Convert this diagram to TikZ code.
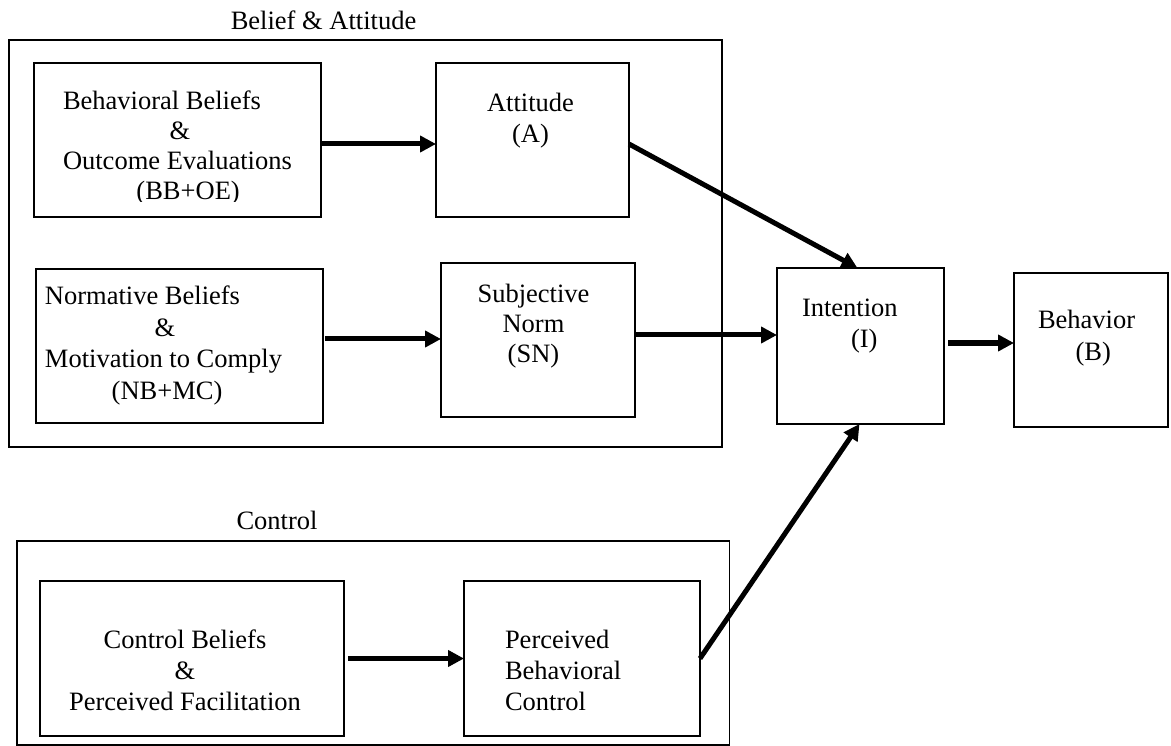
\documentclass[tikz,border=0pt]{standalone}
\usepackage{fontspec}
\setmainfont{Liberation Serif}
\usetikzlibrary{arrows.meta}
% stacked lines whose baseline is the first line's baseline
\newcommand{\txtstack}[2][c]{\begin{tabular}[t]{@{}#1@{}}#2\end{tabular}}
\begin{document}
\begin{tikzpicture}[x=1pt,y=-1pt,
  frame/.style={draw, line width=1.8pt, inner sep=0pt, outer sep=0pt},
  flow/.style={line width=5pt, -{Triangle[length=16pt,width=16pt]}},
  txt/.style={inner sep=0pt, outer sep=0pt, font=\fontsize{26.5pt}{30pt}\selectfont},
  txtb/.style={txt, font=\fontsize{26.5pt}{31pt}\selectfont},
  txtc/.style={txt, font=\fontsize{26.5pt}{31.5pt}\selectfont},
  txtd/.style={txt, font=\fontsize{26.5pt}{32pt}\selectfont}]
\useasboundingbox (0,0) rectangle (1171,746);

% group frames
\node[frame, minimum width=713pt, minimum height=407pt] (grpba) at (365.5,243.5) {};
\node[frame, minimum width=712.5pt, minimum height=204pt] (grpctl) at (373.25,643) {};
\node[txt, anchor=base] (lblba) at (323.5,30) {Belief \& Attitude};
\node[txt, anchor=base] (lblctl) at (277,529) {Control};

% construct boxes
\node[frame, minimum width=287pt, minimum height=154pt] (bboe) at (177.5,140) {};
\node[frame, minimum width=193pt, minimum height=154pt] (att)  at (532.5,140) {};
\node[frame, minimum width=287pt, minimum height=154pt] (nbmc) at (179.5,346) {};
\node[frame, minimum width=194pt, minimum height=154pt] (sn)   at (538,340) {};
\node[frame, minimum width=167pt, minimum height=156pt] (int)  at (860.5,346) {};
\node[frame, minimum width=154pt, minimum height=154pt] (beh)  at (1091,350) {};
\node[frame, minimum width=304pt, minimum height=155pt] (cbpf) at (192,658.5) {};
\node[frame, minimum width=236pt, minimum height=155pt] (pbc)  at (582,658.5) {};

% box texts (the first box's text is cut off by its text area)
\begin{scope}
  \clip (bboe.north west) rectangle ([yshift=15pt]bboe.south east);
  \node[txt, anchor=base west] (tbboe) at (63,109.5)
    {\txtstack[l]{Behavioral Beliefs\\\hspace*{106.7pt}\&\\Outcome Evaluations\\\hspace*{73.5pt}(BB+OE)}};
\end{scope}
\node[txtb, anchor=base] (tatt) at (530.5,112) {\txtstack{Attitude\\(A)}};
\node[txtc, anchor=base west] (tnbmc) at (45,305)
  {\txtstack[l]{Normative Beliefs\\\hspace*{109.7pt}\&\\Motivation to Comply\\\hspace*{66.7pt}(NB+MC)}};
\node[txt, anchor=base] (tsn) at (533.5,303) {\txtstack{Subjective\\Norm\\(SN)}};
\node[txtb, anchor=base west] (tint) at (802,317) {\txtstack[l]{Intention\\\hspace*{49pt}(I)}};
\node[txtd, anchor=base west] (tbeh) at (1038,329) {\txtstack[l]{Behavior\\\hspace*{37.5pt}(B)}};
\node[txtb, anchor=base] (tcbpf) at (185,648) {\txtstack{Control Beliefs\\\&\\Perceived Facilitation}};
\node[txtb, anchor=base west] (tpbc) at (505,648) {\txtstack[l]{Perceived\\Behavioral\\Control}};

% connectors
\draw[flow] ([yshift=-4pt]bboe.east) -- ([yshift=-4pt]att.west);
\draw[flow] ([xshift=2pt,yshift=7pt]nbmc.east) -- ([yshift=1pt]sn.west);
\draw[flow] ([yshift=-4pt]att.east) -- ([xshift=-3pt]int.north);
\draw[flow] ([yshift=5pt]sn.east) -- ([yshift=11pt]int.west);
\draw[flow] ([xshift=4pt,yshift=3pt]int.east) -- ([yshift=7pt]beh.west);
\draw[flow] ([xshift=4pt]cbpf.east) -- (pbc.west);
\draw[flow] (pbc.east) -- ([xshift=-1pt]int.south);
\end{tikzpicture}
\end{document}
